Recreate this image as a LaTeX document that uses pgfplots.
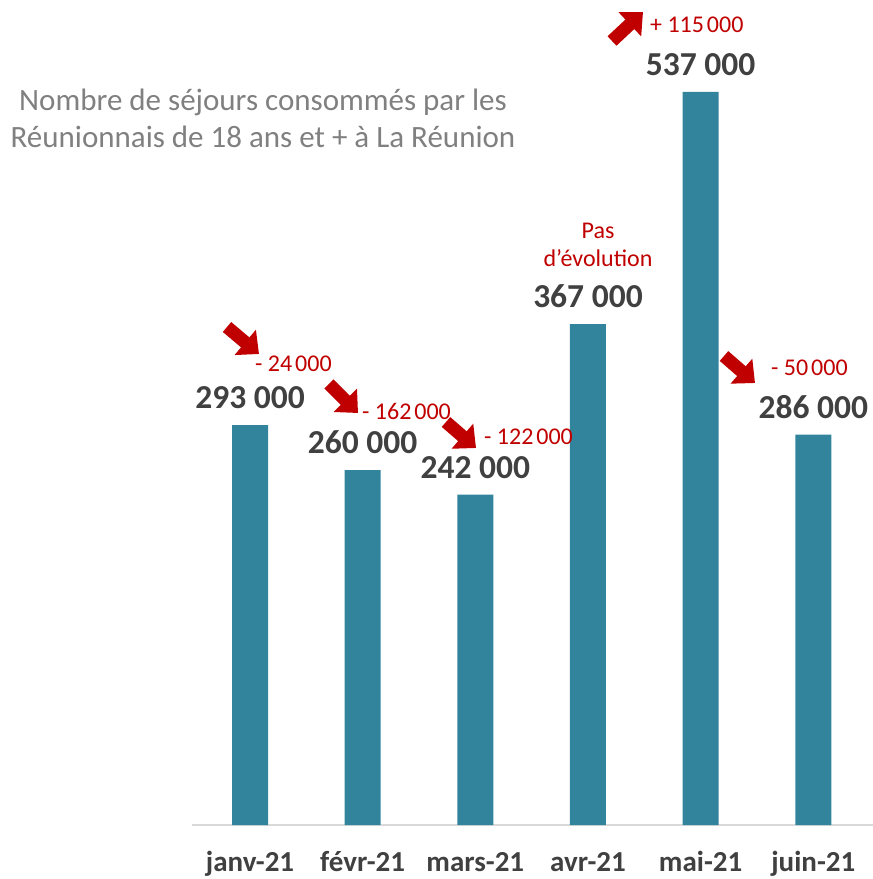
\documentclass[border=0pt]{standalone}
\usepackage{pgfplots}
\pgfplotsset{compat=1.18}
\usepackage{fontspec}
\setmainfont{Carlito}
\usetikzlibrary{arrows.meta}
\definecolor{barc}{HTML}{31849B}
\definecolor{lab}{HTML}{404040}
\definecolor{ttl}{HTML}{808080}
\definecolor{redc}{HTML}{C00000}
\begin{document}
\begin{tikzpicture}
\useasboundingbox (-192pt,-54pt) rectangle (681pt,825pt);
\begin{axis}[
  at={(0pt,0pt)}, anchor=south west,
  scale only axis, width=681pt, height=825pt,
  xmin=-0.515, xmax=5.53, ymin=0, ymax=604400,
  axis x line*=bottom, axis y line=none,
  x axis line style={draw=black!15, line width=1.5pt},
  ytick=\empty,
  xtick={0,1,2,3,4,5},
  xticklabels={janv-21,févr-21,mars-21,avr-21,mai-21,juin-21},
  major tick length=0pt,
  xticklabel style={anchor=base, inner sep=0pt, yshift=-46pt, text=lab, font=\fontsize{29}{34}\selectfont\bfseries},
  clip=false,
  nodes near coords={\pgfmathprintnumber[fixed, 1000 sep={\ }, assume math mode=true]{\pgfplotspointmeta}},
  every node near coord/.append style={anchor=south, inner sep=0pt, yshift=16pt, text=lab, font=\fontsize{33.5}{40}\selectfont\bfseries},
]
\addplot[ybar, bar width=36pt, fill=barc, draw=none] coordinates {
  (0,293000) (1,260000) (2,242000) (3,367000) (4,537000) (5,286000)
};
\end{axis}
\begin{scope}[x=1pt, y=1pt]
  \node[text=ttl, align=center, font=\fontsize{31}{37}\selectfont] at (71,707) {Nombre de séjours consommés par les\\Réunionnais de 18 ans et + à La Réunion};
  \tikzset{bigarrow/.style={draw=redc, line width=13pt, -{Triangle[width=32pt,length=18pt]}}}
  \draw[bigarrow] (35,498) -- (67,471);
  \draw[bigarrow] (137,441) -- (166,412);
  \draw[bigarrow] (254,403) -- (284,377);
  \draw[bigarrow] (420,784) -- (451,813);
  \draw[bigarrow] (532,469) -- (563,442);
  \tikzset{redtxt/.style={text=redc, inner sep=0pt, font=\fontsize{24}{28}\selectfont}}
  \node[redtxt, anchor=west] at (63,461) {- 24\hspace{0.12em}000};
  \node[redtxt, anchor=west] at (170,414) {- 162\hspace{0.12em}000};
  \node[redtxt, anchor=west] at (292,388) {- 122\hspace{0.12em}000};
  \node[redtxt, anchor=west] at (458,800) {+ 115\hspace{0.12em}000};
  \node[redtxt, anchor=west] at (579,457) {- 50\hspace{0.12em}000};
  \node[redtxt, align=center] at (406,580) {Pas\\d’évolution};
\end{scope}
\end{tikzpicture}
\end{document}
